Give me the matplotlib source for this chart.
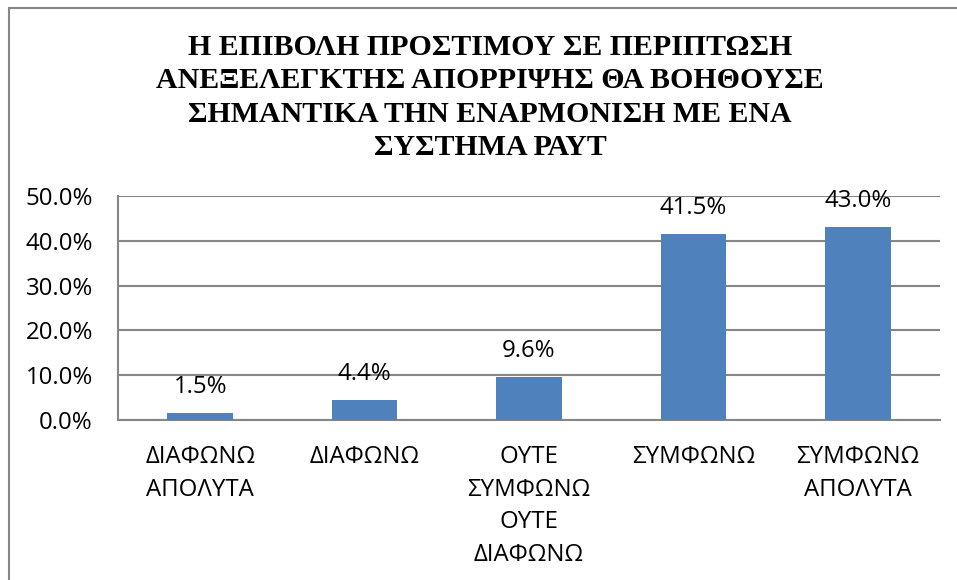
import matplotlib.pyplot as plt
from matplotlib.patches import Rectangle
import numpy as np

# Δεδομένα
categories = ["ΔΙΑΦΩΝΩ\nΑΠΟΛΥΤΑ", "ΔΙΑΦΩΝΩ", "ΟΥΤΕ\nΣΥΜΦΩΝΩ\nΟΥΤΕ\nΔΙΑΦΩΝΩ",
              "ΣΥΜΦΩΝΩ", "ΣΥΜΦΩΝΩ\nΑΠΟΛΥΤΑ"]
values = [1.5, 4.4, 9.6, 41.5, 43.0]
yticks = [0, 10, 20, 30, 40, 50]
title = ("Η ΕΠΙΒΟΛΗ ΠΡΟΣΤΙΜΟΥ ΣΕ ΠΕΡΙΠΤΩΣΗ\nΑΝΕΞΕΛΕΓΚΤΗΣ ΑΠΟΡΡΙΨΗΣ ΘΑ ΒΟΗΘΟΥΣΕ\n"
         "ΣΗΜΑΝΤΙΚΑ ΤΗΝ ΕΝΑΡΜΟΝΙΣΗ ΜΕ ΕΝΑ\nΣΥΣΤΗΜΑ ΡΑΥΤ")

BAR = "#4F81BD"
GRID = "#868686"
W, H = 957, 580
FS = 17.3

fig = plt.figure(figsize=(W / 100, H / 100), dpi=100)
ax = fig.add_axes([118 / W, 1 - 420 / H, (940 - 118) / W, (420 - 196) / H])

# πλαίσιο γραφήματος
fig.patches.append(Rectangle((9 / W, -0.05), 1.0, 1 - 8 / H + 0.05,
                             transform=fig.transFigure, fill=False,
                             edgecolor=GRID, linewidth=1.5))

x = np.arange(len(categories))
ax.bar(x, values, width=0.4, color=BAR, zorder=3)
for xi, v in zip(x, values):
    ax.text(xi, v + 5.9, f"{v:.1f}%", ha="center", va="center",
            fontsize=FS, family="Open Sans", color="black")

ax.set_xlim(-0.5, len(categories) - 0.5)
ax.set_ylim(0, 50)
ax.set_yticks(yticks)
ax.set_yticklabels([f"{t:.1f}%" for t in yticks], fontsize=FS, family="Open Sans")
ax.set_xticks(x)
ax.set_xticklabels(categories, fontsize=FS, family="Open Sans", linespacing=1.48,
                   va="top")
ax.tick_params(axis="x", length=0, pad=18)
ax.tick_params(axis="y", length=0, pad=18)
ax.yaxis.grid(True, color=GRID, linewidth=1.5, zorder=0)
for s in ["top", "right"]:
    ax.spines[s].set_visible(False)
for s in ["left", "bottom"]:
    ax.spines[s].set_color(GRID)
    ax.spines[s].set_linewidth(1.5)

fig.text(490 / W, 1 - 34 / H, title, ha="center", va="top", fontsize=21.5,
         family="Liberation Serif", fontweight="bold", linespacing=1.3)

fig.savefig("out.png", dpi=100)
